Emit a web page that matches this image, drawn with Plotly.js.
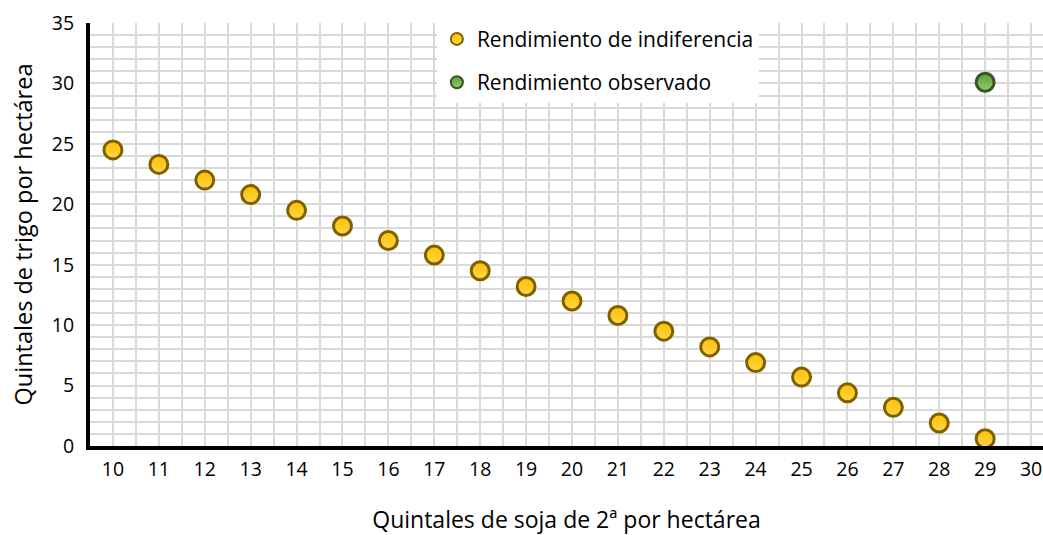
<!DOCTYPE html>
<html>
<head>
<meta charset="utf-8">
<script src="https://cdn.plot.ly/plotly-3.0.1.min.js"></script>
<style>html,body{margin:0;padding:0;background:#fff;}#chart{width:1043px;height:535px;}</style>
</head>
<body>
<div id="chart"></div>
<script>
const soja = [10, 11, 12, 13, 14, 15, 16, 17, 18, 19, 20, 21, 22, 23, 24, 25, 26, 27, 28, 29];
const trigoIndiferencia = [24.5, 23.3, 22.0, 20.8, 19.5, 18.2, 17.0, 15.8, 14.5, 13.2, 12.0, 10.8, 9.5, 8.2, 6.9, 5.7, 4.4, 3.2, 1.9, 0.6];
const sojaObservado = [29];
const trigoObservado = [30.1];
const seriesNames = ['Rendimiento de indiferencia', 'Rendimiento observado'];
const xTitle = 'Quintales de soja de 2ª por hectárea';
const yTitle = 'Quintales de trigo por hectárea';

const FONT = '"Open Sans", "Noto Sans", sans-serif';
const GRID = '#d9d9d9';

const traces = [
  {
    x: soja, y: trigoIndiferencia, name: seriesNames[0], type: 'scatter', mode: 'markers',
    legendgroup: 'a',
    marker: {size: 18, color: '#FFC000', gradient: {type: 'vertical', color: '#FFD54A'},
             line: {color: '#7F6000', width: 3}},
    cliponaxis: false
  },
  {
    x: sojaObservado, y: trigoObservado, name: seriesNames[1], type: 'scatter', mode: 'markers',
    legendgroup: 'b',
    marker: {size: 18, color: '#5E9B3A', gradient: {type: 'vertical', color: '#8FD16A'},
             line: {color: '#375623', width: 3}},
    cliponaxis: false
  }
];

const layout = {
  width: 1043, height: 535,
  margin: {l: 90, r: 0, t: 23, b: 89},
  paper_bgcolor: '#ffffff', plot_bgcolor: '#ffffff',
  font: {family: FONT, size: 18, color: '#000'},
  showlegend: true,
  legend: {
    x: 0.364, y: 1.01, xanchor: 'left', yanchor: 'top',
    bgcolor: '#ffffff', borderwidth: 0,
    font: {family: FONT, size: 21, color: '#000'},
    itemsizing: 'constant', tracegroupgap: 13,
    itemwidth: 30
  },
  xaxis: {
    range: [9.5, 30.26], tickmode: 'linear', tick0: 10, dtick: 1,
    showgrid: true, gridcolor: GRID, gridwidth: 2,
    minor: {dtick: 0.5, tick0: 10, showgrid: true, gridcolor: GRID, gridwidth: 2},
    showline: true, linecolor: '#000', linewidth: 4,
    zeroline: false, ticks: '', ticklabelstandoff: 3,
    tickfont: {family: FONT, size: 19.5, color: '#000'},
    title: {text: xTitle, font: {family: FONT, size: 23, color: '#000'}, standoff: 35}
  },
  yaxis: {
    range: [0, 35], tickmode: 'linear', tick0: 0, dtick: 5,
    showgrid: true, gridcolor: GRID, gridwidth: 2,
    minor: {dtick: 1, tick0: 0, showgrid: true, gridcolor: GRID, gridwidth: 2},
    showline: true, linecolor: '#000', linewidth: 4,
    zeroline: false, ticks: '', ticklabelstandoff: 8,
    tickfont: {family: FONT, size: 19.5, color: '#000'},
    title: {text: yTitle, font: {family: FONT, size: 23.5, color: '#000'}, standoff: 14}
  }
};

Plotly.newPlot('chart', traces, layout, {displayModeBar: false, staticPlot: true});
</script>
</body>
</html>
